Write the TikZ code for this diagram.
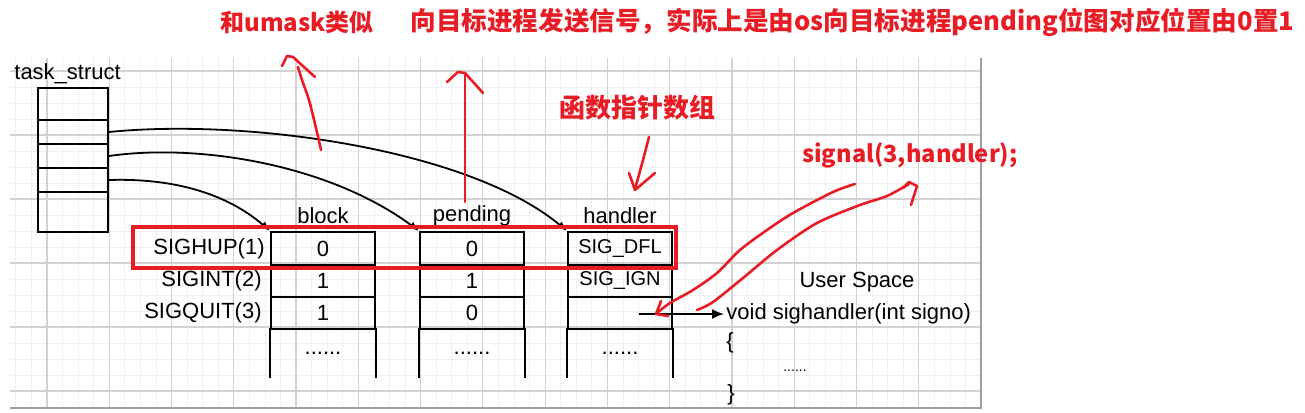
\documentclass[tikz,border=0pt]{standalone}
\usepackage{fontspec}
\setmainfont{Liberation Sans}
\newfontfamily\cjk{Noto Sans CJK SC}
\usepackage{tikz}
\usetikzlibrary{arrows.meta,calc}
\definecolor{HandRed}{RGB}{232,28,36}

\tikzset{
  cell/.style={draw, line width=1pt, minimum width=52pt, inner sep=0pt, font=\fontsize{11}{13}\selectfont},
  tscell/.style={draw, line width=0.9pt, minimum width=35pt, inner sep=0pt},
  lbl/.style={font=\fontsize{11}{13}\selectfont, inner sep=1pt},
  note/.style={text=HandRed, font=\cjk\bfseries\fontsize{13}{15}\selectfont, inner sep=0pt},
  hand/.style={draw=HandRed, line width=1.3pt, line cap=round, line join=round},
  ptr/.style={-{Latex[length=5pt,width=4pt]}, line width=0.9pt},
}

\begin{document}
\begin{tikzpicture}[x=0.5pt, y=-0.5pt]
        \useasboundingbox (0,0) rectangle (1305,412);

        % background grid
        \foreach \k in {-2,...,59} {
          \pgfmathsetmacro\gx{47+15.567*\k}
          \draw[gray!12, line width=0.4pt] (\gx,58) -- (\gx,408);
        }
        \foreach \k in {0,...,20}
          \draw[gray!12, line width=0.4pt] (10,71+16*\k) -- (981,71+16*\k);
        \foreach \k in {0,...,14}
          \draw[gray!35, line width=0.6pt] (47+62.27*\k,58) -- (47+62.27*\k,408);
        \foreach \k in {0,...,5}
          \draw[gray!35, line width=0.6pt] (10,71+64*\k) -- (981,71+64*\k);
        \draw[gray!75, line width=1pt] (10,408) -- (981,408) -- (981,58);

        % task_struct
        \node[lbl, anchor=west] (tsname) at (12,74) {task\_struct};
        \node[tscell, minimum height=16pt] (ts1) at (73,104) {};
        \node[tscell, minimum height=12pt] (ts2) at (73,132) {};
        \node[tscell, minimum height=12pt] (ts3) at (73,156) {};
        \node[tscell, minimum height=12pt] (ts4) at (73,180) {};
        \node[tscell, minimum height=20pt] (ts5) at (73,212) {};

        % signal rows
        \node[lbl, anchor=east] (sighup) at (267,248.5) {SIGHUP(1)};
        \node[lbl, anchor=east] (sigint) at (264,281) {SIGINT(2)};
        \node[lbl, anchor=east] (sigquit) at (264,313) {SIGQUIT(3)};

        % block
        \node[lbl] (blkhead) at (323,216) {block};
        \node[cell, minimum height=16.5pt] (blk1) at (323,248.5) {0};
        \node[cell, minimum height=16pt] (blk2) at (323,281) {1};
        \node[cell, minimum height=16pt] (blk3) at (323,313) {1};
        \node[cell, minimum height=24pt, draw=none] (blk4) at (323,353) {......};
        \draw[line width=1pt] (blk4.north west) -- (blk4.south west) (blk4.north east) -- (blk4.south east);

        % pending
        \node[lbl] (pndhead) at (472,216) {pending};
        \node[cell, minimum height=16.5pt] (pnd1) at (472,248.5) {0};
        \node[cell, minimum height=16pt] (pnd2) at (472,281) {1};
        \node[cell, minimum height=16pt] (pnd3) at (472,313) {0};
        \node[cell, minimum height=24pt, draw=none] (pnd4) at (472,353) {......};
        \draw[line width=1pt] (pnd4.north west) -- (pnd4.south west) (pnd4.north east) -- (pnd4.south east);

        % handler
        \node[lbl] (hdlhead) at (620,216) {handler};
        \node[cell, minimum height=16.5pt, font=\fontsize{10}{12}\selectfont] (hdl1) at (620,248.5) {SIG\_DFL};
        \node[cell, minimum height=16pt, font=\fontsize{10}{12}\selectfont] (hdl2) at (620,281) {SIG\_IGN};
        \node[cell, minimum height=16pt] (hdl3) at (620,313) {};
        \node[cell, minimum height=24pt, draw=none] (hdl4) at (620,353) {......};
        \draw[line width=1pt] (hdl4.north west) -- (hdl4.south west) (hdl4.north east) -- (hdl4.south east);

        % pointers from task_struct
        \draw[ptr] (ts2.east) .. controls (250,118) and (470,150) .. (hdl1.north west);
        \draw[ptr] (ts3.east) .. controls (200,143) and (330,165) .. (pnd1.north west);
        \draw[ptr] (ts4.east) .. controls (170,178) and (225,192) .. (blk1.north west);

        % user space
        \node[lbl] (userspace) at (857,282) {User Space};
        \node[lbl, anchor=west] (sigfunc) at (724,314) {void sighandler(int signo)};
        \node[lbl, anchor=west] (lbrace) at (724,343) {\{};
        \node[lbl, font=\fontsize{7}{8}\selectfont] (body) at (795,371) {......};
        \node[lbl, anchor=west] (rbrace) at (725,395) {\}};
        \coordinate (hdlptr) at ($(hdl3.center)+(19,1)$);
        \draw[-{Latex[length=6pt,width=5pt]}, line width=0.9pt] (hdlptr) -- (sigfunc.west);

        % red notes
        \draw[HandRed, line width=1.6pt] (133,227) rectangle (676,268);
        \node[note, font=\cjk\bfseries\fontsize{12}{14}\selectfont] (umask) at (297,22) {和umask类似};
        \node[note, anchor=west, font=\cjk\bfseries\fontsize{12.8}{15}\selectfont] (sendsig) at (410,22) {向目标进程发送信号，实际上是由os向目标进程pending位图对应位置由0置1};
        \node[note] (funcarr) at (637,108) {函数指针数组};
        \node[note, font=\cjk\bfseries\fontsize{11.8}{14}\selectfont] (sigcall) at (910,155) {signal(3,handler);};

        \draw[hand] plot[smooth] coordinates {(321,150) (316,128) (309,100) (302,80) (298,67)};
        \draw[hand] (282,66) -- (287,56) -- (293,57) -- (315,77);
        \draw[hand] (465,202) -- (465,73);
        \draw[hand] (447,82) -- (458,72) -- (465,73) -- (483,93);
        \draw[hand] plot[smooth] coordinates {(649,137) (643,160) (635,189)};
        \draw[hand] (629,173) -- (635,190) -- (655,173);
        \draw[hand] plot[smooth] coordinates {(855,184) (833,192) (793,213) (767,230) (740,250) (717,273) (693,290) (670,303) (657,313)};
        \draw[hand] (661,301) -- (656,314) -- (668,316);
        \draw[hand] plot[smooth] coordinates {(697,310) (713,302) (743,278) (777,250) (817,223) (860,205) (887,196) (909,184)};
        \draw[hand] (903,188) -- (909,182) -- (917,186) -- (911,205);
\end{tikzpicture}
\end{document}
